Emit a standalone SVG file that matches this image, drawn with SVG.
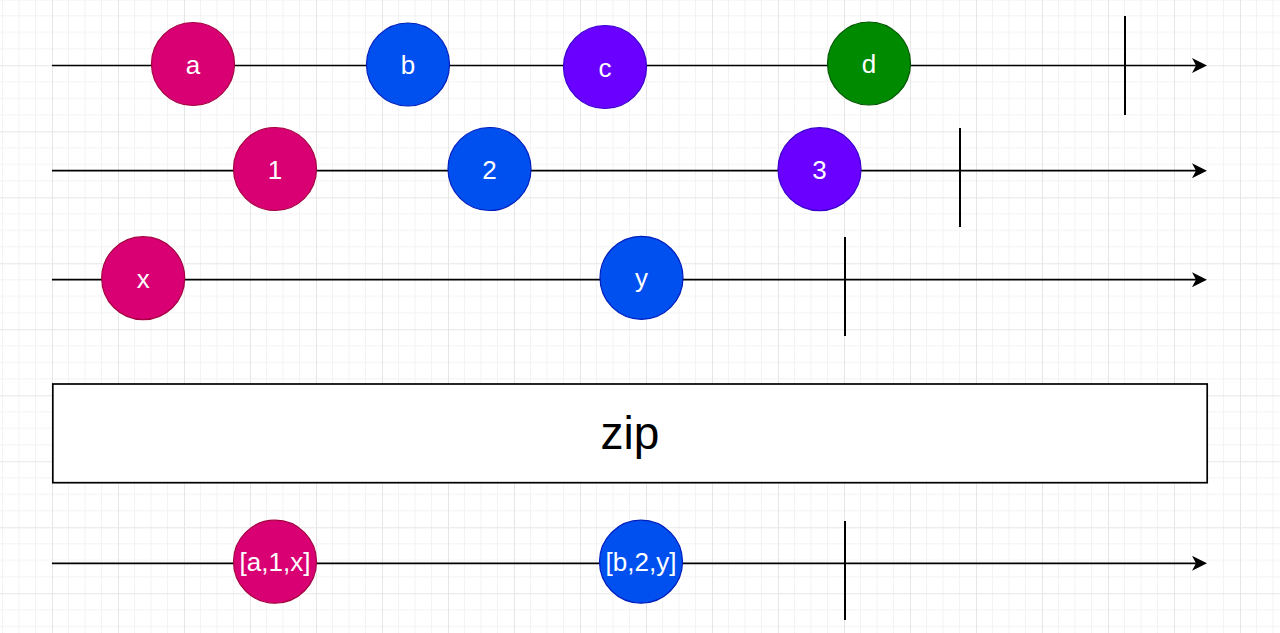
<svg xmlns="http://www.w3.org/2000/svg" width="1280" height="633" viewBox="0 0 1280 633">
<style>
.axis{stroke:#000;stroke-width:1.7;fill:none}
.term{stroke:#000;stroke-width:2;fill:none}
.lbl{font-family:"Liberation Sans",Arial,Helvetica,sans-serif;font-size:26px;fill:#fff;text-anchor:middle}
.pink{fill:#d80073;stroke:#a50040;stroke-width:1.2}
.blue{fill:#0050ef;stroke:#001dbc;stroke-width:1.2}
.purple{fill:#6a00ff;stroke:#3700cc;stroke-width:1.2}
.green{fill:#008a00;stroke:#005700;stroke-width:1.2}
</style>
<defs>
<pattern id="grid" patternUnits="userSpaceOnUse" x="52" y="-0.7" width="66" height="66">
<rect width="66" height="66" fill="#fff"/>
<path d="M16.5 0V66M33 0V66M49.5 0V66M0 16.5H66M0 33H66M0 49.5H66" stroke="#f3f3f3" stroke-width="1"/>
<path d="M0.5 0V66M0 0.5H66" stroke="#e6e6e6" stroke-width="1"/>
</pattern>
<marker id="arr" markerUnits="userSpaceOnUse" viewBox="0 0 15 15" markerWidth="15" markerHeight="15" refX="4" refY="7.5" orient="auto">
<path d="M0,0 L15,7.5 L0,15 L4,7.5 Z" fill="#000"/>
</marker>
</defs>
<rect width="1280" height="633" fill="url(#grid)"/>
<g id="connectors">
<line class="axis" x1="52" y1="65.5" x2="1196" y2="65.5" marker-end="url(#arr)"/>
<line class="axis" x1="52" y1="170.7" x2="1196" y2="170.7" marker-end="url(#arr)"/>
<line class="axis" x1="52" y1="279.7" x2="1196" y2="279.7" marker-end="url(#arr)"/>
<line class="axis" x1="52" y1="563.3" x2="1196" y2="563.3" marker-end="url(#arr)"/>
<line class="term" x1="1125" y1="16" x2="1125" y2="115"/>
<line class="term" x1="960" y1="128" x2="960" y2="227"/>
<line class="term" x1="845" y1="237" x2="845" y2="336"/>
<line class="term" x1="845" y1="521" x2="845" y2="620"/>
</g>
<g id="node-a"><circle class="pink" cx="193" cy="64" r="41.5"/><text class="lbl" x="193" y="73.5">a</text></g>
<g id="node-b"><circle class="blue" cx="408" cy="64.5" r="41.5"/><text class="lbl" x="408" y="74">b</text></g>
<g id="node-c"><circle class="purple" cx="605" cy="67" r="41.5"/><text class="lbl" x="605" y="76.5">c</text></g>
<g id="node-d"><circle class="green" cx="869" cy="63.5" r="41.5"/><text class="lbl" x="869" y="73">d</text></g>
<g id="node-1"><circle class="pink" cx="275" cy="169" r="41.5"/><text class="lbl" x="275" y="178.5">1</text></g>
<g id="node-2"><circle class="blue" cx="489.5" cy="169" r="41.5"/><text class="lbl" x="489.5" y="178.5">2</text></g>
<g id="node-3"><circle class="purple" cx="819.5" cy="169.2" r="41.5"/><text class="lbl" x="819.5" y="178.7">3</text></g>
<g id="node-x"><circle class="pink" cx="143.2" cy="278.2" r="41.5"/><text class="lbl" x="143.2" y="287.7">x</text></g>
<g id="node-y"><circle class="blue" cx="641.5" cy="277.8" r="41.5"/><text class="lbl" x="641.5" y="287.3">y</text></g>
<g id="node-zip"><rect x="52.8" y="384" width="1154.4" height="98.7" fill="#fff" stroke="#000" stroke-width="1.7"/><text x="630" y="449" font-family="'Liberation Sans',Arial,Helvetica,sans-serif" font-size="46" fill="#000" text-anchor="middle">zip</text></g>
<g id="node-a1x"><circle class="pink" cx="275" cy="561.7" r="41.5"/><text class="lbl" x="275" y="571">[a,1,x]</text></g>
<g id="node-b2y"><circle class="blue" cx="641" cy="561.7" r="41.5"/><text class="lbl" x="641" y="571">[b,2,y]</text></g>
</svg>
